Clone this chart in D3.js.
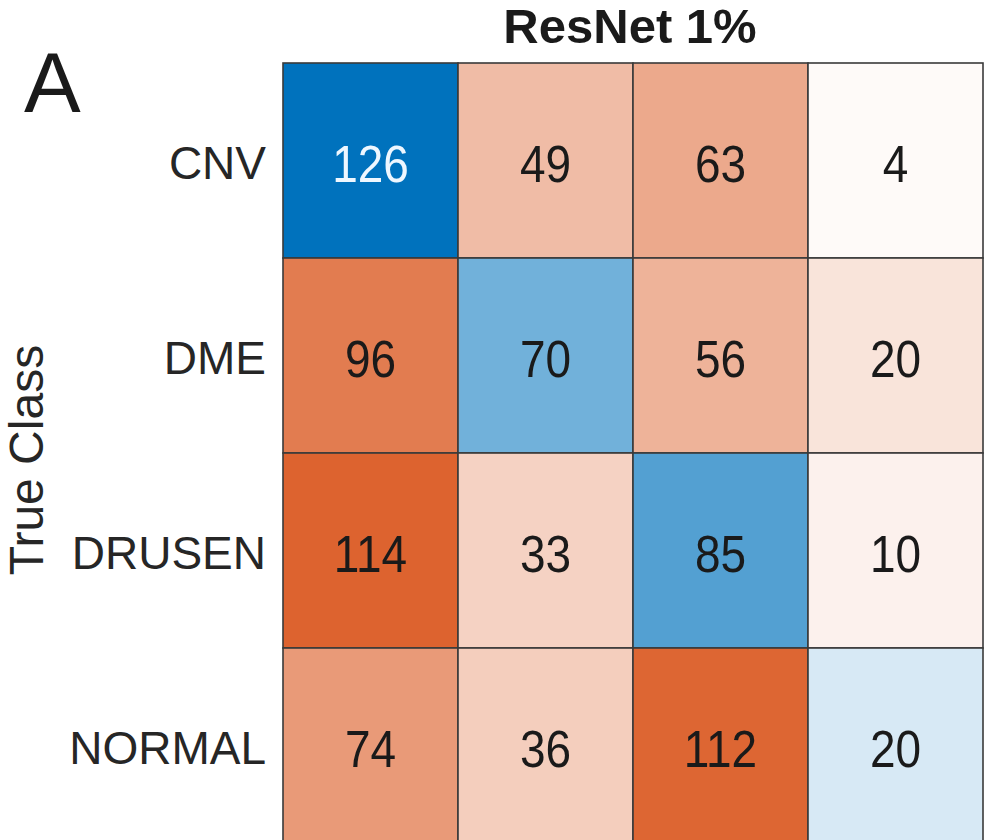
<!DOCTYPE html>
<html>
<head>
<meta charset="utf-8">
<script src="https://cdn.jsdelivr.net/npm/d3@7"></script>
<style>
  html, body { margin: 0; padding: 0; background: #ffffff; overflow: hidden; }
  svg { display: block; }
  text { font-family: "Liberation Sans", Arial, Helvetica, sans-serif; }
</style>
</head>
<body>
<script>
// ---- data ----
const classes = ["CNV", "DME", "DRUSEN", "NORMAL"];
const rowCNV    = [126, 49, 63, 4];
const rowDME    = [96, 70, 56, 20];
const rowDRUSEN = [114, 33, 85, 10];
const rowNORMAL = [74, 36, 112, 20];
const matrix = [rowCNV, rowDME, rowDRUSEN, rowNORMAL];
const title = "ResNet 1%";
const yTitle = "True Class";
const panelLabel = "A";

// ---- layout ----
const W = 993, H = 840;
const svg = d3.select("body").append("svg").attr("width", W).attr("height", H);

const x = d3.scaleBand().domain(classes).range([283, 983]);
const y = d3.scaleBand().domain(classes).range([63, 843]);

const cells = [];
matrix.forEach((row, i) => row.forEach((v, j) => cells.push({ t: classes[i], p: classes[j], v, diag: i === j })));
const vmax = d3.max(cells, d => d.v);

const blue = d3.interpolateRgb("#ffffff", "rgb(0,114,189)");
const orange = d3.interpolateRgb("#ffffff", "rgb(217,83,25)");
const t = d3.scaleLinear().domain([0, vmax]).range([0, 1]);

const g = svg.append("g");
g.selectAll("rect.cell").data(cells).join("rect")
  .attr("class", "cell")
  .attr("x", d => x(d.p))
  .attr("y", d => y(d.t))
  .attr("width", x.bandwidth())
  .attr("height", y.bandwidth())
  .attr("fill", d => d.diag ? blue(t(d.v)) : orange(t(d.v)))
  .attr("stroke", "#3a3a3a")
  .attr("stroke-width", 1.6);

g.selectAll("text.val").data(cells).join("text")
  .attr("class", "val")
  .attr("transform", d => `translate(${x(d.p) + x.bandwidth() / 2},${y(d.t) + y.bandwidth() / 2 + 21.5}) scale(1,1.12)`)
  .attr("text-anchor", "middle")
  .attr("font-size", 46)
  .attr("fill", d => t(d.v) > 0.9 && d.diag ? "#eef7ff" : "#1a1a1a")
  .text(d => d.v);

// row labels
svg.selectAll("text.rowlab").data(classes).join("text")
  .attr("class", "rowlab")
  .attr("x", 266)
  .attr("y", d => y(d) + y.bandwidth() / 2 + 18)
  .attr("text-anchor", "end")
  .attr("font-size", 46)
  .attr("fill", "#262626")
  .text(d => d);

// title
svg.append("text")
  .attr("x", 630).attr("y", 43)
  .attr("text-anchor", "middle")
  .attr("font-size", 49).attr("font-weight", "bold")
  .attr("fill", "#1a1a1a")
  .text(title);

// y axis title
svg.append("text")
  .attr("transform", "translate(43,460) rotate(-90)")
  .attr("text-anchor", "middle")
  .attr("font-size", 48)
  .attr("fill", "#262626")
  .text(yTitle);

// panel label
svg.append("text")
  .attr("x", 24).attr("y", 112)
  .attr("font-size", 85)
  .attr("fill", "#1a1a1a")
  .text(panelLabel);
</script>
</body>
</html>
